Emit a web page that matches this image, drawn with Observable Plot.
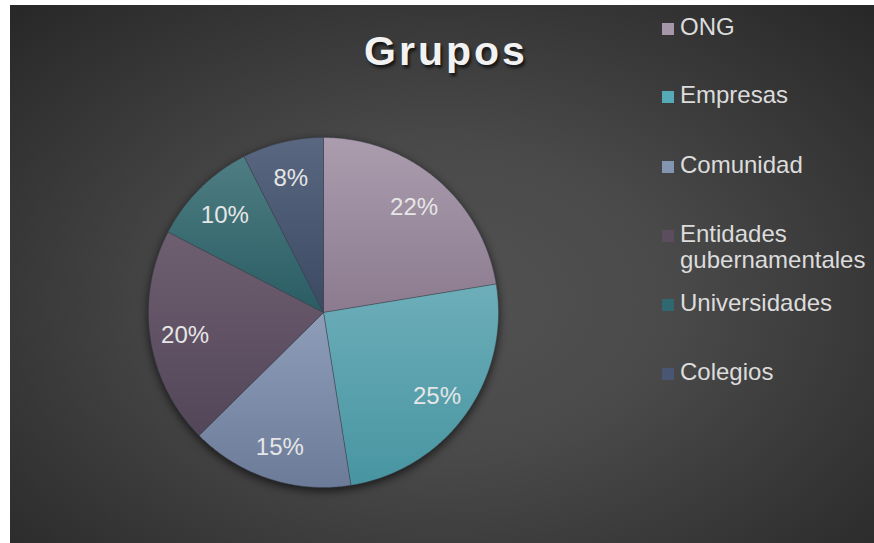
<!DOCTYPE html>
<html><head><meta charset="utf-8">
<script src="https://cdn.jsdelivr.net/npm/d3@7"></script>
<script src="https://cdn.jsdelivr.net/npm/@observablehq/plot@0.6"></script>
<style>
body{margin:0;background:#ffffff;}
#chart{position:absolute;left:10px;top:5px;width:864px;height:538px;overflow:hidden;
  background: radial-gradient(ellipse 75% 80% at 50% 55%, #525252 0%, #4a4a4a 35%, #333333 75%, #252525 100%);
  font-family:"Liberation Sans",Arial,sans-serif;}
#title{position:absolute;left:0;width:866px;top:22px;padding-left:3px;text-align:center;font-size:41px;line-height:48px;
  font-weight:bold;letter-spacing:3px;color:#f2f2f2;text-shadow:2px 3px 3px rgba(0,0,0,0.65);}
.item{position:absolute;left:652px;font-size:24px;line-height:26px;color:#dcdcdc;white-space:nowrap;}
.sw{display:inline-block;width:12px;height:12px;margin-right:6px;vertical-align:baseline;}
#plot{position:absolute;left:0;top:0;}
</style></head><body>
<div id="chart"><div id="plot"></div><div id="title">Grupos</div></div>
<script>
// ---- data ----
const categories = ["ONG", "Empresas", "Comunidad", "Entidades gubernamentales", "Universidades", "Colegios"];
const legendLines = [["ONG"], ["Empresas"], ["Comunidad"], ["Entidades", "gubernamentales"], ["Universidades"], ["Colegios"]];
const values = [22.4, 25.1, 15.1, 20, 9.9, 7.5];
const topColors = ["#ab9cae", "#6daeb9", "#8e9eb9", "#6e5f70", "#4e7e83", "#5a6781"];
const bottomColors = ["#8c7b8f", "#4795a1", "#6c7b98", "#534659", "#2a5c64", "#3c4962"];
const swatchColors = ["#a596a9", "#56aab7", "#8495b2", "#5b4c5e", "#2f6870", "#485673"];
// legend text baselines (page px)
const legendBaselines = [35, 103, 173, 242, 311, 380];

// ---- layout ----
const W = 864, H = 538;
const cx = 313, cy = 307, R = 175;

const arcs = d3.pie().sort(null).value(d => d)(values);
const slices = arcs.map((a, i) => {
  const pts = [{x: 0, y: 0}];
  const n = Math.max(4, Math.ceil((a.endAngle - a.startAngle) / 0.01));
  for (let k = 0; k <= n; k++) {
    const t = a.startAngle + (a.endAngle - a.startAngle) * k / n;
    pts.push({x: Math.sin(t), y: Math.cos(t)});
  }
  pts.push({x: 0, y: 0});
  return pts;
});
const labelData = arcs.map((a, i) => {
  const m = (a.startAngle + a.endAngle) / 2;
  return {x: 0.8 * Math.sin(m), y: 0.8 * Math.cos(m), text: Math.round(values[i]) + "%"};
});

const plot = Plot.plot({
  width: W, height: H, margin: 0,
  style: {background: "transparent", overflow: "visible"},
  x: {domain: [-1, 1], range: [cx - R, cx + R], axis: null},
  y: {domain: [-1, 1], range: [cy + R, cy - R], axis: null},
  marks: [
    Plot.dot([{x: 0, y: 0}], {x: "x", y: "y", r: R + 1, fill: "#000", fillOpacity: 0.6, stroke: "none", dy: 3}),
    ...slices.map((pts, i) => Plot.line(pts, {x: "x", y: "y", fill: `url(#grad${i})`, stroke: "#3d4450", strokeWidth: 0.6, strokeOpacity: 0.8, curve: "linear"})),
    Plot.text(labelData, {x: "x", y: "y", text: "text", fill: "#e6e6e6", fontSize: 24, dy: 2, fontFamily: "Liberation Sans, Arial, sans-serif"})
  ]
});

const defs = d3.select(plot).insert("defs", ":first-child");
topColors.forEach((c, i) => {
  const g = defs.append("linearGradient").attr("id", "grad" + i).attr("x1", 0).attr("y1", 0).attr("x2", 0).attr("y2", 1);
  g.append("stop").attr("offset", "0%").attr("stop-color", c);
  g.append("stop").attr("offset", "100%").attr("stop-color", bottomColors[i]);
});
const dotG = plot.querySelector('g[aria-label="dot"]');
if (dotG) dotG.style.filter = "blur(4px)";
document.getElementById("plot").appendChild(plot);

// legend
const chart = document.getElementById("chart");
legendLines.forEach((lines, i) => {
  const div = document.createElement("div");
  div.className = "item";
  div.style.top = (legendBaselines[i] - 5 - 21) + "px";
  const sw = document.createElement("span");
  sw.className = "sw";
  sw.style.background = swatchColors[i];
  div.appendChild(sw);
  div.appendChild(document.createTextNode(lines[0]));
  if (lines.length > 1) {
    div.appendChild(document.createElement("br"));
    const s2 = document.createElement("span");
    s2.style.paddingLeft = "18px";
    s2.textContent = lines[1];
    div.appendChild(s2);
  }
  chart.appendChild(div);
});
</script>
</body></html>
